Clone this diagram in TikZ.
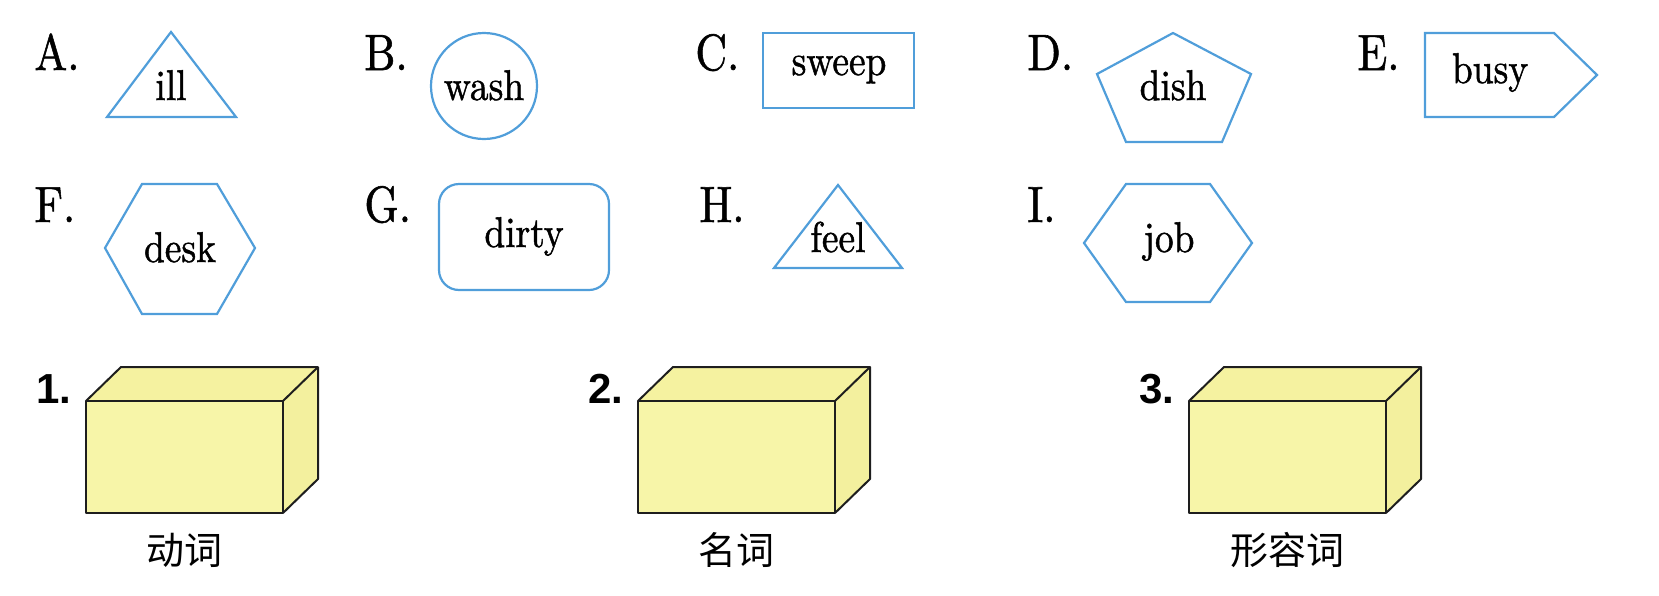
\documentclass[tikz,border=0pt]{standalone}
\usepackage{fontspec}
\usepackage{graphicx}
\newfontfamily\numfont{Liberation Sans}
\newfontfamily\cjk{Noto Sans CJK SC}
\newfontfamily\sr[FakeBold=1.2]{lmroman10-regular.otf}
\definecolor{ablue}{RGB}{80,158,218}
\definecolor{cyfront}{RGB}{247,245,168}
\definecolor{cytop}{RGB}{245,242,160}
\definecolor{cyside}{RGB}{243,240,158}
\definecolor{cline}{RGB}{30,30,30}
\newcommand\nt[1]{\scalebox{0.87}[1]{#1}}
\newcommand\nl[1]{\scalebox{0.86}[1]{#1}}
\begin{document}
\begin{tikzpicture}[x=0.5pt,y=-0.5pt,
  shp/.style={draw=ablue, line width=1.1pt, line join=miter},
  letter/.style={font=\sr\fontsize{25.5}{28}\selectfont, inner sep=0pt, anchor=base west},
  word/.style={font=\sr\fontsize{21.5}{24}\selectfont, inner sep=0pt, anchor=base},
  cube/.style={draw=cline, line width=1pt, line join=round},
  num/.style={font=\numfont\bfseries\fontsize{21}{24}\selectfont, inner sep=0pt, anchor=base west},
  cn/.style={font=\cjk\fontsize{19}{22}\selectfont, inner sep=0pt}]
\useasboundingbox (0,0) rectangle (1659,595);

% letters
\node[letter] (la) at (34,70) {\nl{A.}};
\node[letter] (lb) at (364,70) {\nl{B.}};
\node[letter] (lc) at (695,70) {\nl{C.}};
\node[letter] (ld) at (1027,70) {\nl{D.}};
\node[letter] (le) at (1357,70) {\nl{E.}};
\node[letter] (lf) at (34,222) {\nl{F.}};
\node[letter] (lg) at (364,222) {\nl{G.}};
\node[letter] (lh) at (699,222) {\nl{H.}};
\node[letter] (li) at (1027,222) {\nl{I.}};

% shapes
\draw[shp] (171,32) -- (236,117) -- (107,117) -- cycle;
\draw[shp] (484,86) circle[radius=26.5pt];
\draw[shp] (763,33) rectangle (914,108);
\draw[shp] (1173,33) -- (1251,74) -- (1222,142) -- (1126,142) -- (1097,74) -- cycle;
\draw[shp] (1425,33) -- (1554,33) -- (1597,75) -- (1554,117) -- (1425,117) -- cycle;
\draw[shp] (105,248) -- (142,184) -- (217,184) -- (255,248) -- (217,314) -- (142,314) -- cycle;
\draw[shp, rounded corners=10pt] (439,184) rectangle (609,290);
\draw[shp] (838,185) -- (902,268) -- (774,268) -- cycle;
\draw[shp] (1084,243) -- (1126,184) -- (1210,184) -- (1252,243) -- (1210,302) -- (1126,302) -- cycle;

% words
\node[word] (wa) at (171,100) {\nt{ill}};
\node[word] (wb) at (484,100) {\nt{wash}};
\node[word] (wc) at (839,75) {\nt{sweep}};
\node[word] (wd) at (1173,100) {\nt{dish}};
\node[word] (we) at (1490,83) {\nt{busy}};
\node[word] (wf) at (180,262) {\nt{desk}};
\node[word] (wg) at (524,247) {\nt{dirty}};
\node[word] (wh) at (838,252) {\nt{feel}};
\node[word] (wi) at (1169,252) {\nt{job}};

% boxes
\foreach \x/\n/\t in {86/1/动词, 638/2/名词, 1189/3/形容词}{
  \fill[cyfront] (\x,401) rectangle ({\x+197},513);
  \fill[cytop] (\x,401) -- ({\x+35},367) -- ({\x+232},367) -- ({\x+197},401) -- cycle;
  \fill[cyside] ({\x+197},401) -- ({\x+232},367) -- ({\x+232},479) -- ({\x+197},513) -- cycle;
  \draw[cube] (\x,401) rectangle ({\x+197},513);
  \draw[cube] (\x,401) -- ({\x+35},367) -- ({\x+232},367) -- ({\x+232},479) -- ({\x+197},513);
  \draw[cube] ({\x+197},401) -- ({\x+232},367);
  \node[num] (num\n) at ({\x-50},403) {\n.};
  \node[cn] (cn\n) at ({\x+98.5},550) {\t};
}
\end{tikzpicture}
\end{document}
